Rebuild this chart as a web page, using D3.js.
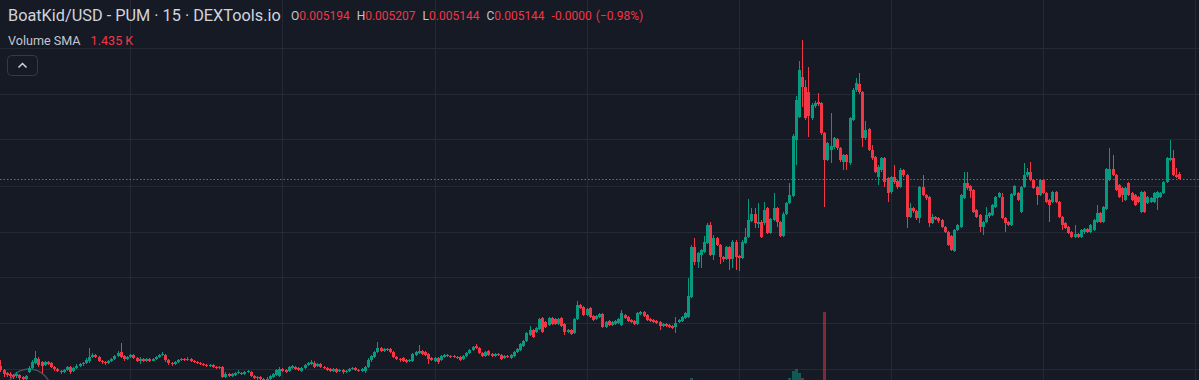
<!DOCTYPE html>
<html><head><meta charset="utf-8">
<script src="https://cdn.jsdelivr.net/npm/d3@7/dist/d3.min.js"></script>
<style>
html,body{margin:0;padding:0;background:#161a25;overflow:hidden}
svg{display:block}
</style></head><body>
<svg id="chart" width="1199" height="380"></svg>
<script>
// BoatKid/USD 15-minute candles; prices in units of 1e-5 USD (514.4 = 0.005144)
const open = [
327,323,320,319,318,317,318,316,314,321, 325,330,334,331,328,331,330,326,324,322,
321,323,326,322,325,327,329,330,332,336, 338,336,332,331,330,332,334,337,341,337,
334,336,338,335,332,334,332,334,332,334, 336,338,338,333,330,329,331,333,334,333,
334,332,331,330,329,328,327,328,326,325, 326,316,319,317,318,320,320,319,321,321,
317,315,316,314,313,314,316,318,317,324, 323,322,325,326,325,322,325,328,329,330,
327,329,326,325,324,322,324,322,323,321, 322,324,325,323,322,322,326,333,336,341,
345,342,344,344,341,336,334,335,333,332, 332,338,340,342,341,339,335,332,335,333,
336,338,337,337,336,336,334,337,340,343, 347,345,340,337,342,339,337,339,338,335,
337,335,337,341,343,347,352,358,363,361, 364,375,371,368,375,374,369,375,369,361,
363,360,374,388,386,378,385,377,374,376, 379,366,372,368,369,370,368,378,376,373,
372,369,379,381,378,374,373,372,371,367, 369,368,367,366,371,372,375,376,396,446,
431,438,441,450,468,438,455,448,436,434, 446,434,451,437,435,450,456,472,479,469,
471,470,485,460,473,485,471,457,479,490, 497,553,576,616,606,601,575,587,591,590,
560,533,543,546,554,545,531,538,530,573, 603,609,601,555,564,543,536,516,523,535,
515,501,516,512,506,523,518,476,485,482, 475,506,498,496,470,476,475,473,466,461,
457,442,463,466,495,510,507,503,483,478, 466,471,477,478,486,496,496,475,471,468,
498,500,481,506,518,521,513,506,498,513, 500,493,491,501,491,476,470,466,461,456,
459,456,461,464,461,463,471,480,471,484, 513,524,518,508,505,493,510,500,498,496,
481,501,490,491,491,495,496,500,511,533, 535,518,519.4];
const high = [
333,324,321,321,319,321,319,317,318,327, 333,342,336,332,332,332,331,327,325,323,
324,327,327,326,329,330,331,335,345,340, 339,337,333,332,333,335,338,342,350,338,
337,339,339,336,336,335,335,335,335,337, 339,341,339,334,331,332,334,335,335,336,
335,333,332,331,330,329,329,329,327,327, 327,321,320,320,321,323,321,322,323,322,
318,317,317,315,316,318,320,324,326,325, 324,327,328,327,326,326,329,331,333,332,
330,330,327,326,325,325,325,324,324,323, 325,326,326,324,325,327,335,338,342,351,
346,345,345,345,342,337,335,336,334,334, 340,342,348,343,342,340,336,336,336,338,
339,339,338,338,337,337,338,341,344,347, 349,346,341,342,343,340,340,340,339,338,
338,339,342,345,350,353,361,367,364,366, 375,376,372,376,376,375,375,376,370,364,
364,375,392,389,387,385,386,378,378,380, 380,372,373,372,373,375,383,379,377,374,
373,381,382,382,379,375,374,373,372,370, 370,369,368,376,374,377,381,415,448,455,
441,444,457,470,471,458,456,449,437,447, 447,453,453,438,453,465,494,485,485,490,
473,491,486,475,500,486,472,481,491,510, 559,597,632,653,613,626,590,592,600,591,
561,551,580,556,555,546,539,539,576,605, 615,620,602,572,565,548,537,528,536,536,
516,517,528,513,525,524,519,490,486,483, 507,518,499,497,479,477,476,474,467,462,
458,464,469,499,521,521,508,504,484,479, 472,486,481,489,497,501,500,476,472,500,
508,501,507,530,525,531,514,507,514,514, 501,494,502,502,492,477,471,467,462,468,
460,464,465,465,469,474,488,481,487,525, 545,538,519,509,506,506,511,501,499,497,
502,502,497,496,501,502,501,512,536,553, 543,525,520.7];
const low = [
321,316,316,315,314,315,313,312,311,320, 324,329,326,320,327,328,325,322,321,319,
320,322,319,321,324,326,327,329,330,335, 335,331,329,328,329,331,333,336,335,332,
333,335,334,331,329,331,331,331,332,333, 335,337,331,328,327,328,330,332,332,332,
331,330,329,328,327,326,326,325,324,324, 315,315,316,316,317,319,318,318,320,316,
314,313,312,311,311,313,315,317,316,321, 320,321,324,323,322,321,324,327,328,325,
326,325,324,322,321,321,320,321,319,320, 321,323,322,321,321,320,325,331,335,340,
341,341,342,340,335,333,331,331,330,331, 331,337,339,338,337,329,332,331,329,332,
335,336,335,335,334,332,333,336,339,342, 344,339,336,336,337,336,336,337,333,334,
335,334,336,340,342,346,351,357,355,360, 363,360,365,367,368,368,368,366,358,360,
358,359,373,384,377,377,375,372,373,375, 365,365,367,367,368,369,367,374,371,370,
368,368,378,376,372,371,370,369,363,366, 366,365,364,360,370,371,374,375,395,428,
425,425,440,449,437,433,447,429,431,433, 423,425,423,422,434,449,455,471,465,465,
455,468,459,459,472,466,456,456,478,489, 496,528,575,586,573,556,573,585,587,558,
486,532,530,544,543,531,523,523,528,572, 601,599,546,553,542,533,520,508,521,506,
491,499,509,504,505,516,465,475,480,473, 470,497,493,466,469,473,470,465,460,447,
442,441,462,465,494,503,495,480,475,461, 458,470,475,477,485,495,474,461,467,467,
497,492,480,505,516,512,504,488,497,499, 490,471,490,490,475,463,464,459,455,455,
455,455,459,460,460,462,470,470,470,483, 512,517,502,495,491,492,497,492,487,490,
480,480,489,490,490,483,495,499,510,532, 517,515,514.4];
const close = [
323,319,318,317,316,319,315,314,317,325, 331,335,328,327,331,329,326,324,322,321,
323,326,321,325,327,329,330,333,336,338, 336,332,331,330,332,334,337,340,336,334,
336,338,335,332,334,332,334,332,334,336, 338,339,333,330,329,331,333,334,333,334,
332,331,330,329,328,327,328,326,325,326, 316,319,317,319,320,321,319,321,322,317,
315,316,314,313,314,317,319,323,324,322, 321,326,327,324,323,325,328,330,331,326,
329,326,325,323,322,324,321,323,321,322, 324,325,323,322,324,326,333,337,341,345,
342,344,343,341,336,334,333,332,331,333, 339,341,342,339,338,334,333,335,331,337,
338,337,336,336,335,333,337,340,343,346, 345,340,337,341,338,337,339,338,334,337,
336,338,341,344,349,352,360,363,356,365, 374,361,366,375,369,369,374,367,361,363,
359,374,388,385,378,384,376,373,377,379, 366,371,368,371,372,374,380,375,372,371,
369,380,381,377,373,372,371,370,367,369, 367,366,365,370,373,376,380,397,446,431,
440,443,451,468,438,455,448,436,434,446, 434,451,436,435,451,456,473,479,470,471,
456,483,460,474,485,471,457,479,490,498, 557,593,623,606,575,577,588,590,589,560,
533,550,547,555,545,533,538,531,575,603, 610,601,555,563,543,535,521,526,535,511,
500,516,511,506,523,518,476,485,482,475, 506,498,495,470,476,474,472,466,461,448,
443,463,468,498,510,505,502,481,476,466, 471,478,480,488,496,500,475,470,468,499,
507,493,506,518,521,513,505,498,513,500, 491,488,501,491,476,468,465,460,456,459,
456,463,464,461,468,473,480,471,486,524, 524,518,503,496,498,505,498,493,488,491,
501,481,496,495,500,501,500,511,535,535, 518,516,514.4];

// the few volume bars tall enough to be seen (candle index, volume)
const volIndex = [218, 249, 250, 251, 252, 253, 260];
const volValue = [3800, 3800, 7700, 8800, 6600, 3800, 40000];

// grid: price levels (1e-5 USD) and time ticks (candle index, every 12 h)
const priceGrid = [644.7, 599, 553.7, 507, 461.3, 415.7, 369.7, 323.7];
const timeGrid = [41, 89, 137, 185, 233, 281, 329, 377];

const titleText = "BoatKid/USD - PUM · 15 · DEXTools.io";
const ohlcLabels = ["O", "H", "L", "C"];
const changeText = ["-0.0000", "(−0.98%)"];
const smaLabel = "Volume SMA";
const smaValue = "1.435 K";

const W = 1199, H = 380;
const BG = "#161a25", GRID = "#252935", UP = "#089981", DOWN = "#f23645";
const N = close.length;
const step = 3.16875;
const x = d3.scaleLinear().domain([0, N - 1]).range([0.4, 0.4 + (N - 1) * step]);
const y = d3.scaleLinear().domain([313, 693]).range([H, 0]);
const vy = d3.scaleLinear().domain([0, 40000]).range([385, 312]);

const svg = d3.select("#chart");
svg.append("rect").attr("width", W).attr("height", H).attr("fill", BG);

const grid = svg.append("g").attr("shape-rendering", "crispEdges").attr("stroke", GRID).attr("stroke-width", 1);
grid.selectAll("line.h").data(priceGrid).join("line").attr("class", "h")
  .attr("x1", 0).attr("x2", W)
  .attr("y1", d => Math.round(y(d)) + 0.5).attr("y2", d => Math.round(y(d)) + 0.5);
grid.selectAll("line.v").data(timeGrid).join("line").attr("class", "v")
  .attr("y1", 0).attr("y2", H)
  .attr("x1", d => Math.round(x(d)) + 0.5).attr("x2", d => Math.round(x(d)) + 0.5);

// volume
const vols = volIndex.map((idx, k) => ({ i: idx, v: volValue[k], up: close[idx] >= open[idx] }));
svg.append("g").attr("shape-rendering", "crispEdges").selectAll("rect").data(vols).join("rect")
  .attr("x", d => Math.round(x(d.i)) - 1).attr("width", 3)
  .attr("y", d => vy(d.v)).attr("height", d => vy(0) - vy(d.v))
  .attr("fill", d => d.up ? "rgba(8,153,129,0.5)" : "rgba(242,54,69,0.5)");

// logo ring bottom-left
svg.append("circle").attr("cx", 29).attr("cy", 391).attr("r", 22)
  .attr("fill", "none").attr("stroke", "#4a4e59").attr("stroke-width", 1.5);

// candles
const candles = d3.range(N).map(i => ({ i, o: open[i], h: high[i], l: low[i], c: close[i], up: close[i] >= open[i] }));
const cg = svg.append("g").attr("shape-rendering", "crispEdges");
cg.selectAll("line").data(candles).join("line")
  .attr("x1", d => Math.round(x(d.i)) + 0.5).attr("x2", d => Math.round(x(d.i)) + 0.5)
  .attr("y1", d => y(d.h)).attr("y2", d => y(d.l))
  .attr("stroke", d => d.up ? UP : DOWN).attr("stroke-width", 1);
cg.selectAll("rect").data(candles).join("rect")
  .attr("x", d => Math.round(x(d.i)) - 1).attr("width", 3)
  .attr("y", d => y(Math.max(d.o, d.c)))
  .attr("height", d => Math.max(1, Math.abs(y(d.o) - y(d.c))))
  .attr("fill", d => d.up ? UP : DOWN);

// last price line
const last = candles[N - 1];
svg.append("line").attr("x1", 0).attr("x2", W)
  .attr("y1", Math.round(y(last.c)) + 0.5).attr("y2", Math.round(y(last.c)) + 0.5)
  .attr("stroke", last.up ? UP : DOWN).attr("stroke-width", 1).attr("stroke-dasharray", "1.5,2");

// legend
const FONT = "Roboto, 'Noto Sans', sans-serif";
svg.append("text").attr("x", 8).attr("y", 21).attr("font-family", FONT).attr("font-size", 16.3)
  .attr("fill", "#d1d4dc").text(titleText);

const lastVals = [last.o, last.h, last.l, last.c].map(v => (v / 1e5).toFixed(6));
const valColor = last.up ? UP : DOWN;
let cx = 291;
const lg = svg.append("g").attr("font-family", FONT).attr("font-size", 12);
ohlcLabels.forEach((lab, k) => {
  const t1 = lg.append("text").attr("x", cx).attr("y", 20).attr("fill", "#c3c6ce").text(lab);
  cx += t1.node().getComputedTextLength();
  const t2 = lg.append("text").attr("x", cx).attr("y", 20).attr("fill", valColor).text(lastVals[k]);
  cx += t2.node().getComputedTextLength() + 7;
});
changeText.forEach(s => {
  const t = lg.append("text").attr("x", cx).attr("y", 20).attr("fill", valColor).text(s);
  cx += t.node().getComputedTextLength() + 4;
});

const st = svg.append("text").attr("x", 8).attr("y", 45).attr("font-family", FONT).attr("font-size", 12.6)
  .attr("fill", "#c3c6ce").text(smaLabel);
svg.append("text").attr("x", 8 + st.node().getComputedTextLength() + 10).attr("y", 45)
  .attr("font-family", FONT).attr("font-size", 12.6).attr("fill", DOWN).text(smaValue);

// collapse button
svg.append("rect").attr("x", 7.5).attr("y", 55.5).attr("width", 30).attr("height", 20).attr("rx", 4)
  .attr("fill", BG).attr("stroke", "#363a45");
svg.append("path").attr("d", "M18.5,67.5L22.5,63.5L26.5,67.5").attr("fill", "none")
  .attr("stroke", "#d1d4dc").attr("stroke-width", 1.5);
</script>
</body></html>
